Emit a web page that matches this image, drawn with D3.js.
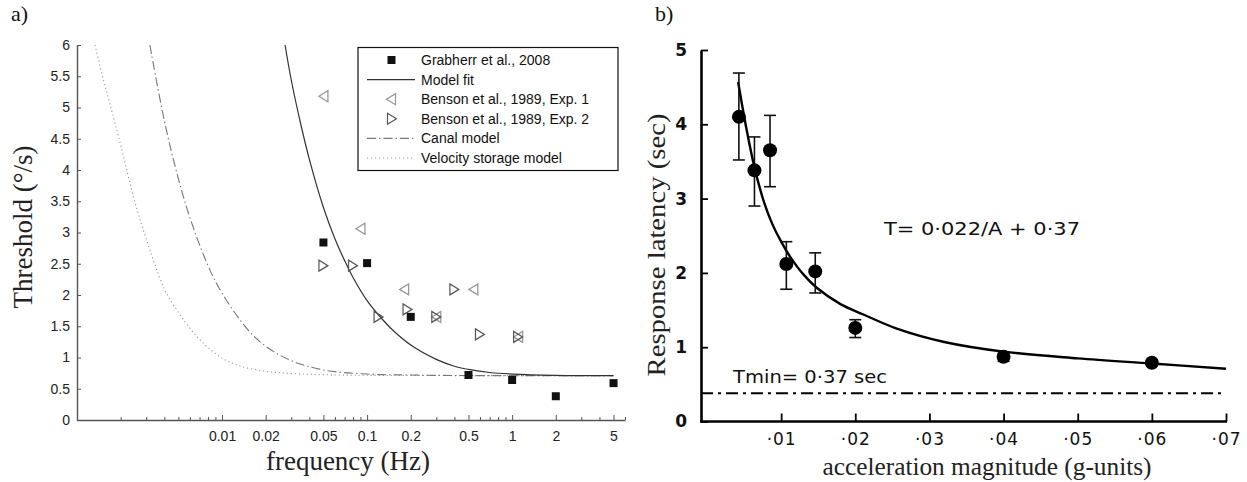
<!DOCTYPE html>
<html><head><meta charset="utf-8">
<script src="https://cdn.jsdelivr.net/npm/d3@7"></script>
<style>body{margin:0;background:#fff}svg{display:block}</style>
</head><body>
<svg id="c" width="1247" height="482"></svg>
<script>
// ---------- Panel a data ----------
const grabFreq = [0.05, 0.1, 0.2, 0.5, 1, 2, 5];
const grabThr  = [2.84, 2.51, 1.65, 0.72, 0.64, 0.38, 0.59];
const exp1Freq = [0.05, 0.09, 0.18, 0.3, 0.54, 1.1];
const exp1Thr  = [5.18, 3.06, 2.09, 1.65, 2.09, 1.33];
const exp2Freq = [0.05, 0.08, 0.12, 0.19, 0.3, 0.4, 0.6, 1.1];
const exp2Thr  = [2.47, 2.47, 1.65, 1.77, 1.65, 2.09, 1.37, 1.33];
const fitFreq  = [0.0272, 0.03, 0.035, 0.04, 0.05, 0.06, 0.07, 0.08, 0.1, 0.12, 0.15, 0.2, 0.3, 0.4, 0.5, 0.7, 1, 2, 5];
const fitThr   = [6.0, 5.44, 4.72, 4.17, 3.40, 2.90, 2.55, 2.28, 1.91, 1.68, 1.44, 1.20, 0.97, 0.86, 0.81, 0.76, 0.735, 0.715, 0.71];
const canalFreq = [0.00318, 0.004, 0.005, 0.006, 0.008, 0.01, 0.015, 0.02, 0.03, 0.05, 0.1, 0.2, 0.5, 1, 5];
const canalThr  = [6.0, 4.79, 3.86, 3.24, 2.47, 2.03, 1.45, 1.18, 0.95, 0.80, 0.735, 0.72, 0.71, 0.71, 0.71];
const vsFreq = [0.00133, 0.0015, 0.00169, 0.002, 0.0025, 0.003, 0.004, 0.005, 0.006, 0.007, 0.008, 0.01, 0.013, 0.02, 0.03, 0.05, 0.1, 1, 5];
const vsThr  = [6.0, 5.5, 5.05, 4.4, 3.5, 2.9, 2.1, 1.72, 1.47, 1.29, 1.16, 0.99, 0.87, 0.78, 0.745, 0.725, 0.715, 0.71, 0.71];
const aXTicks = [0.01, 0.02, 0.05, 0.1, 0.2, 0.5, 1, 2, 5];
const aXTickLabels = ["0.01", "0.02", "0.05", "0.1", "0.2", "0.5", "1", "2", "5"];
const aYTicks = [0, 0.5, 1, 1.5, 2, 2.5, 3, 3.5, 4, 4.5, 5, 5.5, 6];
const aYTickLabels = ["0", "0.5", "1", "1.5", "2", "2.5", "3", "3.5", "4", "4.5", "5", "5.5", "6"];
const legendLabels = ["Grabherr et al., 2008", "Model fit", "Benson et al., 1989, Exp. 1", "Benson et al., 1989, Exp. 2", "Canal model", "Velocity storage model"];

// ---------- Panel b data ----------
const accel   = [0.0043, 0.0064, 0.0085, 0.0107, 0.0146, 0.0200, 0.0400, 0.0600];
const latency = [4.10, 3.38, 3.65, 2.12, 2.02, 1.26, 0.87, 0.79];
const latLow  = [3.52, 2.90, 3.16, 1.78, 1.73, 1.13, 0.81, 0.75];
const latHigh = [4.69, 3.83, 4.12, 2.42, 2.27, 1.37, 0.92, 0.83];
const bFitA = [0.0042, 0.0053, 0.0064, 0.0077, 0.0088, 0.0100, 0.0112, 0.0130, 0.0148, 0.0180, 0.0211, 0.0256, 0.0320, 0.0400, 0.0500, 0.0600, 0.0700];
const bFitT = [4.57, 3.95, 3.42, 2.95, 2.66, 2.42, 2.22, 1.98, 1.80, 1.58, 1.44, 1.25, 1.07, 0.94, 0.85, 0.78, 0.71];
const tmin = 0.38;
const bXTicks = [0.01, 0.02, 0.03, 0.04, 0.05, 0.06, 0.07];
const bXTickLabels = ["·01", "·02", "·03", "·04", "·05", "·06", "·07"];
const bYTicks = [0, 1, 2, 3, 4, 5];
const bYTickLabels = ["0", "1", "2", "3", "4", "5"];

const svg = d3.select("#c");
const serif = "'Liberation Serif', 'Times New Roman', serif";
const sans = "'Liberation Sans', Arial, sans-serif";

// ================= Panel a =================
const xA = d3.scaleLog().domain([0.001, 6]).range([77, 625]);
const yA = d3.scaleLinear().domain([0, 6]).range([420, 45]);
const gA = svg.append("g");

const minor = [];
for (let e = -3; e <= 0; e++) for (let m = 1; m <= 9; m++) { const v = m * Math.pow(10, e); if (v <= 6) minor.push(v); }
const axMinor = d3.axisBottom(xA).tickValues(minor.filter(v => !aXTicks.includes(v))).tickSizeInner(-3).tickSizeOuter(0).tickFormat("");
gA.append("g").attr("transform", "translate(0,420)").call(axMinor)
  .call(g => g.select(".domain").attr("stroke", "#555").attr("stroke-width", 1.4))
  .call(g => g.selectAll(".tick line").attr("stroke", "#555"));
const axMajor = d3.axisBottom(xA).tickValues(aXTicks).tickSizeInner(-5).tickSizeOuter(0).tickPadding(11)
  .tickFormat((d, i) => aXTickLabels[i]);
gA.append("g").attr("transform", "translate(0,420)").call(axMajor)
  .call(g => g.select(".domain").remove())
  .call(g => g.selectAll(".tick line").attr("stroke", "#555"))
  .call(g => g.selectAll(".tick text").attr("font-family", sans).attr("font-size", 14).attr("fill", "#222"));
const axYA = d3.axisLeft(yA).tickValues(aYTicks).tickSizeInner(-4).tickSizeOuter(0).tickPadding(7)
  .tickFormat((d, i) => aYTickLabels[i]);
gA.append("g").attr("transform", "translate(77,0)").call(axYA)
  .call(g => g.select(".domain").attr("stroke", "#555").attr("stroke-width", 1.4))
  .call(g => g.selectAll(".tick line").attr("stroke", "#555"))
  .call(g => g.selectAll(".tick text").attr("font-family", sans).attr("font-size", 14).attr("fill", "#222"));

const lineA = d3.line().x(d => xA(d[0])).y(d => yA(d[1])).curve(d3.curveCatmullRom.alpha(0.5));
gA.append("path").datum(d3.zip(vsFreq, vsThr)).attr("d", lineA)
  .attr("fill", "none").attr("stroke", "#999").attr("stroke-width", 1.1).attr("stroke-dasharray", "1.2,2.8");
gA.append("path").datum(d3.zip(canalFreq, canalThr)).attr("d", lineA)
  .attr("fill", "none").attr("stroke", "#777").attr("stroke-width", 1.1).attr("stroke-dasharray", "9,3,1.5,3");
gA.append("path").datum(d3.zip(fitFreq, fitThr)).attr("d", lineA)
  .attr("fill", "none").attr("stroke", "#333").attr("stroke-width", 1.2);

const triL = "M4.5,-5.5L4.5,5.5L-4.5,0Z";
const triR = "M-4.5,-5.5L-4.5,5.5L4.5,0Z";
gA.selectAll(".e1").data(d3.zip(exp1Freq, exp1Thr)).join("path")
  .attr("transform", d => `translate(${xA(d[0])},${yA(d[1])})`)
  .attr("d", triL).attr("fill", "none").attr("stroke", "#999").attr("stroke-width", 1.3);
gA.selectAll(".e2").data(d3.zip(exp2Freq, exp2Thr)).join("path")
  .attr("transform", d => `translate(${xA(d[0])},${yA(d[1])})`)
  .attr("d", triR).attr("fill", "none").attr("stroke", "#555").attr("stroke-width", 1.2);
gA.selectAll(".gr").data(d3.zip(grabFreq, grabThr)).join("rect")
  .attr("x", d => xA(d[0]) - 4).attr("y", d => yA(d[1]) - 4).attr("width", 8).attr("height", 8).attr("fill", "#111");

const lg = gA.append("g");
lg.append("rect").attr("x", 358).attr("y", 47.5).attr("width", 260).attr("height", 123)
  .attr("fill", "#fff").attr("stroke", "#111").attr("stroke-width", 1.2);
const rowY = i => 60 + i * 19.6;
legendLabels.forEach((t, i) => {
  lg.append("text").attr("x", 421).attr("y", rowY(i) + 5).attr("font-family", sans).attr("font-size", 14).attr("fill", "#111").text(t);
});
lg.append("rect").attr("x", 387.5).attr("y", rowY(0) - 4).attr("width", 8).attr("height", 8).attr("fill", "#111");
lg.append("line").attr("x1", 367).attr("x2", 415).attr("y1", rowY(1)).attr("y2", rowY(1)).attr("stroke", "#333").attr("stroke-width", 1.2);
lg.append("path").attr("transform", `translate(391,${rowY(2)})`).attr("d", triL).attr("fill", "none").attr("stroke", "#999").attr("stroke-width", 1.3);
lg.append("path").attr("transform", `translate(392,${rowY(3)})`).attr("d", triR).attr("fill", "none").attr("stroke", "#555").attr("stroke-width", 1.2);
lg.append("line").attr("x1", 367).attr("x2", 415).attr("y1", rowY(4)).attr("y2", rowY(4)).attr("stroke", "#777").attr("stroke-width", 1.1).attr("stroke-dasharray", "9,3,1.5,3");
lg.append("line").attr("x1", 367).attr("x2", 415).attr("y1", rowY(5)).attr("y2", rowY(5)).attr("stroke", "#999").attr("stroke-width", 1.1).attr("stroke-dasharray", "1.2,2.8");

gA.append("text").attr("x", 11).attr("y", 21).attr("font-family", serif).attr("font-size", 22).attr("fill", "#111").text("a)");
gA.append("text").attr("transform", "translate(32,227) rotate(-90)").attr("text-anchor", "middle")
  .attr("font-family", serif).attr("font-size", 27).attr("fill", "#222").text("Threshold (°/s)");
gA.append("text").attr("x", 348).attr("y", 470).attr("text-anchor", "middle")
  .attr("font-family", serif).attr("font-size", 27).attr("fill", "#222").text("frequency (Hz)");

// ================= Panel b =================
const xB = d3.scaleLinear().domain([0, 0.07]).range([707, 1226]);
const yB = d3.scaleLinear().domain([0, 5]).range([421.5, 50]);
const gB = svg.append("g");
const hand = "'DejaVu Sans', 'Liberation Sans', sans-serif";

gB.append("line").attr("x1", 700).attr("x2", 1227).attr("y1", 421.5).attr("y2", 421.5).attr("stroke", "#000").attr("stroke-width", 2.6);
const axXB = d3.axisBottom(xB).tickValues(bXTicks).tickSizeInner(-8).tickSizeOuter(0).tickPadding(11)
  .tickFormat((d, i) => bXTickLabels[i]);
gB.append("g").attr("transform", "translate(0,421.5)").call(axXB)
  .call(g => g.select(".domain").remove())
  .call(g => g.selectAll(".tick line").attr("stroke", "#000").attr("stroke-width", 1.8))
  .call(g => g.selectAll(".tick text").attr("font-family", hand).attr("font-size", 17).attr("letter-spacing", 1).attr("fill", "#111"));
const axYB = d3.axisLeft(yB).tickValues(bYTicks).tickSizeInner(-7).tickSizeOuter(0).tickPadding(14)
  .tickFormat((d, i) => bYTickLabels[i]);
gB.append("g").attr("transform", "translate(701,0)").call(axYB)
  .call(g => g.select(".domain").attr("stroke", "#000").attr("stroke-width", 2.6))
  .call(g => g.selectAll(".tick line").attr("stroke", "#000").attr("stroke-width", 1.8))
  .call(g => g.selectAll(".tick text").attr("font-family", hand).attr("font-weight", "bold").attr("font-size", 17).attr("fill", "#111"));

gB.append("line").attr("x1", 701).attr("x2", 1226).attr("y1", yB(tmin)).attr("y2", yB(tmin))
  .attr("stroke", "#000").attr("stroke-width", 2.2).attr("stroke-dasharray", "12,5,3,5");

const lineB = d3.line().x(d => xB(d[0])).y(d => yB(d[1])).curve(d3.curveCatmullRom.alpha(0.5));
gB.append("path").datum(d3.zip(bFitA, bFitT)).attr("d", lineB).attr("fill", "none").attr("stroke", "#000").attr("stroke-width", 2.4);

const pts = accel.map((a, i) => ({a, t: latency[i], lo: latLow[i], hi: latHigh[i]}));
const eb = gB.selectAll(".eb").data(pts).join("g").attr("stroke", "#111").attr("stroke-width", 1.6);
eb.append("line").attr("x1", d => xB(d.a)).attr("x2", d => xB(d.a)).attr("y1", d => yB(d.lo)).attr("y2", d => yB(d.hi));
eb.append("line").attr("x1", d => xB(d.a) - 6).attr("x2", d => xB(d.a) + 6).attr("y1", d => yB(d.lo)).attr("y2", d => yB(d.lo));
eb.append("line").attr("x1", d => xB(d.a) - 6).attr("x2", d => xB(d.a) + 6).attr("y1", d => yB(d.hi)).attr("y2", d => yB(d.hi));
gB.selectAll(".pt").data(pts).join("circle").attr("cx", d => xB(d.a)).attr("cy", d => yB(d.t)).attr("r", 7).attr("fill", "#000");

gB.append("text").attr("x", 884).attr("y", 235).attr("font-family", hand).attr("font-size", 18).attr("fill", "#111")
  .attr("textLength", 196).attr("lengthAdjust", "spacingAndGlyphs").text("T= 0·022/A + 0·37");
gB.append("text").attr("x", 733).attr("y", 383).attr("font-family", hand).attr("font-size", 18).attr("fill", "#111")
  .attr("textLength", 154).attr("lengthAdjust", "spacingAndGlyphs").text("Tmin= 0·37 sec");

gB.append("text").attr("x", 655).attr("y", 21).attr("font-family", serif).attr("font-size", 22).attr("fill", "#111").text("b)");
gB.append("text").attr("transform", "translate(665,245) rotate(-90)").attr("text-anchor", "middle")
  .attr("font-family", serif).attr("font-size", 26).attr("fill", "#222")
  .attr("textLength", 263).attr("lengthAdjust", "spacingAndGlyphs").text("Response latency (sec)");
gB.append("text").attr("x", 987).attr("y", 475).attr("text-anchor", "middle")
  .attr("font-family", serif).attr("font-size", 25).attr("fill", "#222")
  .attr("textLength", 329).attr("lengthAdjust", "spacingAndGlyphs").text("acceleration magnitude (g-units)");
</script>
</body></html>
